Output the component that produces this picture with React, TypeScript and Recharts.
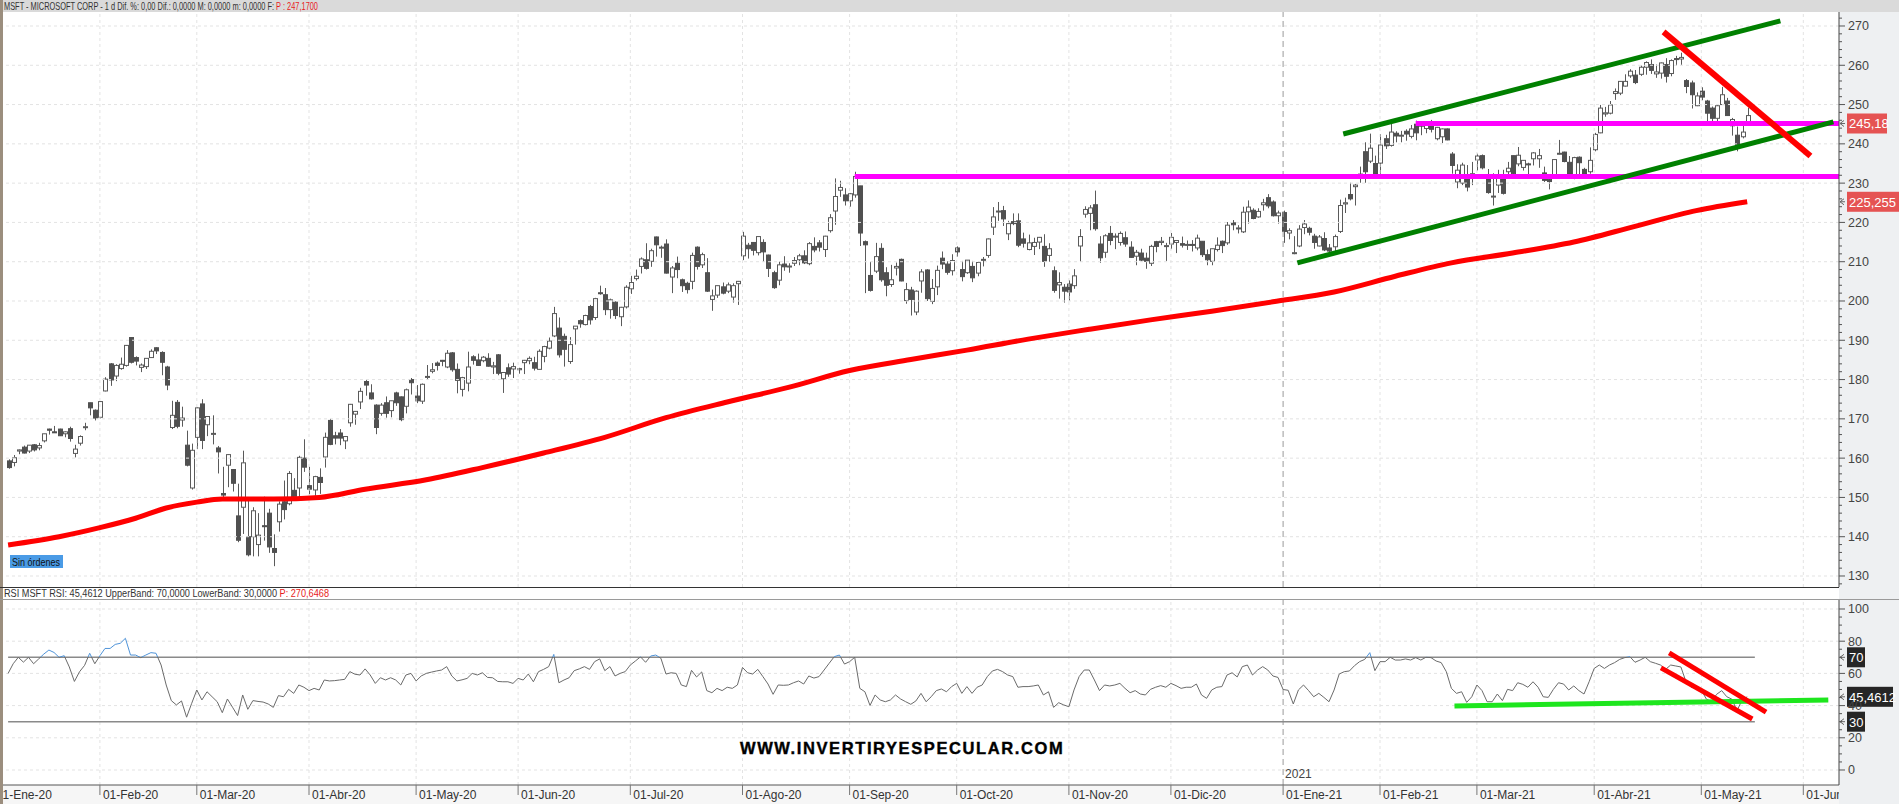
import React from 'react'
import { ComposedChart, Bar, Line, XAxis, YAxis, ReferenceLine } from 'recharts'

// daily sessions, [open, high, low, close]; index 0 = 02-Ene-20, first visible = 07-Ene-20
const jan20 = [[159.3,159.7,157.3,157.6],[158.9,160.8,157.9,160.1],[161.8,162.2,161.0,162.1],[162.8,163.2,161.2,161.3],[161.8,163.3,161.3,163.3],[163.4,163.6,161.7,162.1],[162.6,163.9,162.0,163.2],[164.4,166.2,164.0,166.2],[167.4,167.5,166.0,167.1],[166.7,168.2,166.4,166.5],[167.4,167.5,165.7,165.7],[166.2,166.8,165.3,166.7],[167.5,168.0,164.2,165.0],[161.2,163.4,160.2,162.3],[163.8,165.8,163.2,165.5],[167.8,169.0,167.1,168.0],[174.1,174.1,170.9,172.8],[172.2,172.4,169.6,170.2]]
const feb20 = [[170.4,174.5,170.1,174.4],[177.1,180.6,177.0,180.1],[184.0,184.2,178.4,179.9],[180.9,183.9,179.6,183.6],[182.8,185.6,182.5,183.9],[183.6,188.8,183.3,188.7],[190.7,190.7,184.1,184.4],[185.6,185.9,183.6,184.7],[183.1,184.1,181.9,183.7],[183.3,185.4,182.7,185.4],[185.6,187.7,185.5,187.2],[188.1,188.2,186.5,187.3],[186.9,187.2,181.1,184.4],[183.2,183.5,177.3,178.6],[167.8,174.6,167.4,170.9],[174.2,174.8,167.6,168.1],[169.7,173.1,168.0,170.2],[163.3,167.0,157.9,158.2],[152.4,163.7,152.0,162.0]]
const mar20 = [[165.3,172.9,162.3,172.8],[173.8,175.0,162.3,164.5],[168.5,170.7,165.6,170.6],[166.1,170.9,163.5,166.3],[162.6,163.1,156.1,161.6],[151.0,157.8,150.0,150.6],[158.2,161.0,152.6,160.9],[157.1,157.2,151.5,153.6],[145.3,153.5,138.6,139.1],[147.5,161.9,140.7,158.8],[140.0,149.4,135.0,135.4],[140.0,147.5,135.0,146.6],[138.0,146.0,135.0,140.4],[142.8,150.2,139.0,142.7],[146.0,147.1,135.9,137.4],[137.0,140.6,132.5,136.0],[143.8,149.0,141.3,148.3],[148.9,154.3,144.4,146.9],[148.4,156.7,148.0,156.1],[151.8,154.9,149.2,149.7],[152.4,160.6,150.0,160.2],[160.0,164.8,156.5,157.7]]
const apr20 = [[153.0,157.8,150.8,152.1],[151.9,155.5,150.4,155.3],[155.1,157.4,150.9,153.8],[160.3,166.5,157.6,165.3],[169.6,170.0,163.3,163.5],[165.7,166.7,163.5,165.1],[166.4,167.4,163.3,165.1],[164.4,165.6,162.3,165.5],[169.0,173.8,168.0,173.7],[171.2,172.0,168.5,171.9],[174.3,177.9,172.5,177.0],[179.5,180.0,175.9,178.6],[176.6,178.8,174.9,175.1],[173.5,173.7,166.1,167.8],[171.4,174.0,170.8,173.5],[174.1,175.7,170.3,171.4],[172.1,174.6,170.4,174.6],[176.6,176.9,173.3,174.1],[175.6,175.7,169.4,169.8],[173.2,177.7,171.4,177.4],[180.0,180.4,176.2,179.2]]
const may20 = [[175.8,178.6,174.0,174.6],[174.5,179.0,173.8,178.8],[180.6,183.7,179.9,180.8],[182.1,184.2,181.6,182.5],[184.2,184.6,182.3,183.6],[184.9,185.0,183.4,184.7],[183.2,187.5,182.9,186.7],[186.8,187.0,182.0,182.5],[182.6,184.1,176.5,179.8],[177.5,180.7,175.7,180.5],[179.1,187.1,177.0,183.2],[185.8,186.2,183.8,184.9],[185.0,186.6,183.5,183.6],[184.8,186.0,184.4,185.7],[185.4,186.7,183.3,183.4],[183.2,184.5,181.4,183.5],[186.3,186.5,181.1,181.6],[180.2,181.8,176.6,181.8],[183.0,184.1,180.7,181.4],[182.7,184.3,180.4,183.3]]
const jun20 = [[182.5,183.0,181.5,182.8],[184.3,185.0,181.4,184.9],[184.8,185.9,183.9,185.4],[184.3,185.8,182.3,182.9],[182.6,187.7,182.6,187.2],[185.9,188.6,184.4,188.4],[188.0,190.7,187.7,189.8],[191.1,198.5,190.8,196.8],[193.1,195.8,185.6,186.3],[191.0,191.7,183.3,187.7],[184.6,190.8,184.0,188.9],[192.9,193.6,188.9,193.6],[195.0,195.3,193.2,194.2],[194.0,196.5,193.8,196.3],[198.6,199.0,194.0,195.2],[195.8,200.8,195.2,200.6],[202.1,203.9,201.6,201.9],[201.6,203.3,196.4,197.8],[197.8,200.6,195.5,200.3],[199.7,199.9,195.4,196.3],[196.0,198.5,193.6,198.4],[198.5,204.0,198.1,203.5]]
const jul20 = [[203.1,206.4,201.8,204.7],[205.7,208.0,205.2,206.3],[208.8,211.1,207.0,210.7],[210.5,214.7,208.0,208.3],[210.1,213.3,208.7,212.8],[216.3,216.4,211.3,214.3],[213.6,214.1,211.0,213.7],[214.5,215.7,207.0,207.1],[206.1,208.9,202.0,208.4],[209.6,211.3,205.8,208.0],[205.4,205.7,202.3,203.9],[204.5,204.9,201.9,202.9],[205.0,212.3,203.0,211.6],[213.7,213.9,208.0,208.8],[209.2,212.3,208.4,211.8],[207.2,210.9,202.3,202.5],[200.4,202.9,197.5,201.3],[201.5,203.9,200.8,203.9],[203.6,204.7,201.7,202.0],[202.5,204.7,202.0,204.1],[201.0,204.5,199.6,203.9],[204.4,205.1,199.0,205.0]]
const aug20 = [[211.5,217.6,210.4,216.5],[214.2,214.8,210.8,213.3],[214.9,215.0,211.6,212.9],[212.3,216.4,211.6,216.4],[214.9,215.7,210.0,212.5],[211.7,211.8,206.1,208.3],[207.2,207.7,203.1,203.4],[205.3,210.0,204.0,209.2],[209.4,211.4,207.7,208.7],[208.8,209.6,207.2,208.9],[209.6,211.2,208.9,210.3],[210.5,212.0,209.1,211.5],[211.5,212.9,209.4,209.7],[209.5,215.0,209.1,214.6],[213.9,216.2,212.4,213.0],[214.8,215.5,212.6,213.7],[213.1,216.6,211.2,216.5],[217.9,222.1,217.4,221.2],[222.9,231.2,219.4,226.6],[228.2,230.6,226.5,228.9],[227.0,228.7,224.3,225.5]]
const sep20 = [[225.5,227.5,224.0,227.3],[227.0,232.9,226.3,231.7],[229.3,229.3,214.0,217.3],[215.1,215.4,202.0,214.3],[206.5,210.0,202.4,202.7],[207.6,214.8,207.1,211.3],[213.4,214.7,204.9,205.4],[207.2,208.6,201.2,204.0],[204.2,209.2,203.6,205.4],[208.4,209.8,206.5,208.8],[210.6,210.8,205.0,205.1],[200.1,204.6,199.3,202.9],[202.8,203.6,196.3,200.4],[197.2,202.7,196.4,202.5],[205.1,208.1,202.1,207.4],[207.9,208.1,200.0,200.6],[199.9,205.6,199.2,203.2],[203.6,209.0,201.5,207.8],[210.9,212.6,208.1,209.4],[209.4,210.1,206.7,207.3],[207.7,211.9,206.5,210.3]]
const oct20 = [[213.5,213.9,211.3,212.5],[208.0,210.2,205.0,206.2],[207.2,210.4,206.9,210.4],[208.8,210.2,204.8,205.9],[207.1,210.0,206.3,209.8],[210.5,211.2,208.8,210.6],[211.6,215.9,211.0,215.8],[218.8,223.9,216.8,221.4],[222.7,225.2,220.4,222.9],[223.0,224.2,219.1,220.9],[217.1,220.4,215.5,219.7],[220.2,222.3,219.3,219.7],[220.4,222.3,213.7,214.2],[215.8,217.4,213.6,214.7],[213.1,216.9,212.9,214.8],[213.9,216.1,211.7,214.9],[215.0,216.3,213.2,216.2],[213.9,217.0,208.7,210.1],[211.6,214.7,210.0,213.3],[207.7,208.8,202.1,202.7],[204.1,207.3,200.6,204.7],[203.5,204.3,199.6,202.5]]
const nov20 = [[204.3,205.3,200.1,202.3],[203.9,208.1,203.1,206.4],[214.0,218.3,210.0,216.4],[222.1,224.1,221.2,223.3],[222.3,224.4,218.0,223.7],[224.5,228.1,217.9,218.4],[214.5,216.5,209.7,211.0],[212.4,217.0,211.0,216.6],[217.2,219.1,214.2,215.4],[216.4,217.2,213.2,216.5],[214.9,217.7,214.1,217.2],[216.1,217.7,213.8,214.5],[213.7,215.2,211.0,211.1],[211.4,213.0,209.1,212.4],[212.2,213.3,210.1,210.4],[210.9,212.3,208.2,210.1],[209.6,214.3,208.9,213.9],[215.1,215.3,212.4,213.9],[214.9,216.3,214.2,215.2],[214.1,214.8,210.2,214.1]]
const dec20 = [[214.5,217.3,213.2,216.2],[214.9,215.5,212.2,215.4],[214.6,216.4,213.6,214.2],[214.2,215.4,213.0,214.4],[214.4,215.5,212.6,214.3],[213.5,216.9,212.9,216.0],[215.2,215.2,211.2,211.8],[211.8,213.1,209.1,210.5],[210.1,213.3,209.1,213.3],[213.1,216.2,212.6,214.2],[215.2,215.4,212.2,214.1],[214.8,220.1,214.3,219.3],[219.9,220.6,218.0,219.4],[218.6,219.3,217.2,218.6],[217.6,224.0,217.3,222.6],[222.7,225.6,219.7,223.9],[223.1,223.6,220.8,221.0],[221.4,223.6,221.2,222.8],[224.5,226.0,223.0,225.0],[226.3,227.2,223.6,224.2],[225.2,225.6,221.5,221.7],[221.7,223.0,219.7,222.4]]
const jan21 = [[222.5,223.0,214.8,217.7],[217.3,218.5,215.7,217.9],[212.2,216.5,211.9,212.3],[214.0,219.3,213.7,218.3],[218.7,220.6,217.0,219.6],[218.5,218.9,216.7,217.5],[216.5,217.1,213.3,214.9],[214.0,216.8,213.9,216.3],[215.9,217.5,212.7,213.0],[213.5,214.5,212.0,212.7],[213.8,216.9,212.6,216.4],[217.7,225.8,217.3,224.3],[224.7,226.3,222.4,225.0],[227.1,230.1,225.6,226.0],[229.1,229.8,224.3,229.5],[231.9,234.2,230.1,232.3],[238.0,240.4,230.1,232.9],[235.6,242.6,235.1,238.9],[235.0,237.0,231.2,232.0]]
const feb21 = [[235.1,242.5,232.4,239.7],[241.3,242.3,238.7,239.5],[239.6,245.1,239.3,243.0],[242.7,243.2,240.4,242.0],[242.2,243.3,240.4,242.2],[243.2,243.7,240.8,242.5],[241.9,244.8,241.4,243.8],[245.0,245.9,240.9,242.8],[244.8,245.2,242.2,244.5],[243.9,245.3,242.7,245.0],[245.0,246.1,242.9,243.7],[241.3,244.3,240.9,244.2],[241.8,243.9,240.2,243.8],[243.8,243.9,240.9,241.0],[237.4,237.9,232.4,234.5],[230.3,234.8,228.7,233.3],[230.0,235.2,229.5,234.6],[232.1,234.6,227.9,229.0],[231.5,235.4,229.5,232.4]]
const mar21 = [[235.9,237.5,233.2,236.9],[237.0,237.3,233.5,233.9],[232.2,233.6,227.3,227.6],[226.7,232.5,224.3,226.7],[229.5,233.4,227.5,231.6],[231.4,233.4,227.1,227.4],[232.9,235.4,231.7,233.8],[237.0,237.0,232.0,232.4],[234.9,239.2,234.3,237.1],[234.0,235.8,233.2,235.8],[234.9,235.2,231.8,234.8],[236.2,237.9,234.5,237.7],[236.2,238.7,233.9,237.0],[232.6,234.2,230.3,230.7],[231.0,231.8,228.4,230.4],[231.6,236.1,231.1,236.0],[237.5,241.0,237.3,237.6],[237.9,238.0,235.3,235.5],[235.3,236.9,231.6,232.3],[231.6,236.7,231.0,236.5],[236.6,236.8,231.9,235.2],[233.5,233.9,231.1,231.9],[232.9,239.1,232.4,235.8]]
const apr21 = [[238.5,242.8,238.1,242.4],[242.8,249.9,242.7,249.1],[247.6,249.4,246.9,247.9],[247.8,250.9,247.5,249.9],[252.8,254.1,251.2,253.3],[252.9,256.0,252.4,255.9],[254.7,257.7,254.6,255.9],[257.3,259.0,256.8,258.5],[257.5,258.8,255.2,255.6],[257.7,259.9,257.3,259.5],[259.5,261.0,257.6,260.7],[260.2,261.5,257.8,258.7],[257.8,260.2,256.8,258.3],[258.0,260.7,256.6,260.6],[260.2,261.8,255.6,257.2],[257.9,261.5,257.2,261.2],[261.7,262.4,259.9,261.6],[261.6,263.2,260.1,262.0],[256.1,256.5,252.9,254.6],[255.5,256.1,249.0,252.5],[249.7,253.1,249.6,252.2]]
const may21 = [[253.4,254.4,251.1,251.9],[250.9,251.2,245.8,247.8],[249.1,249.5,245.8,246.5],[246.5,249.9,244.7,249.7],[250.0,254.5,249.9,252.5],[250.9,251.7,247.1,247.2],[244.6,246.6,242.1,246.2],[242.2,244.4,238.1,239.0],[241.8,245.6,241.4,243.0],[245.6,249.2,245.5,247.2]]

const months = [jan20, feb20, mar20, apr20, may20, jun20, jul20, aug20, sep20, oct20, nov20, dec20, jan21, feb21, mar21, apr21, may21]
const firstSession = 3

// RSI(14), one value per session from 07-Ene-20
const rsi = [
  60, 66, 70, 67, 70, 66, 69, 72, 74.5, 73,
  70, 71, 64, 55, 61, 65, 72.5, 66, 71, 75.5,
  75.5, 78, 78.7, 81.8, 71.4, 71.4, 69.8, 71.4, 72.9, 72.5,
  65.2, 52.8, 43.1, 40.4, 42.9, 32.8, 41.4, 49.7, 43.5, 48.6,
  45.5, 42.4, 35.6, 44.1, 39, 33.8, 46.6, 37.7, 43.1, 42.6,
  42.2, 41, 38.9, 46.2, 45.5, 50.1, 47.6, 52.8, 51.4, 49.3,
  50.7, 49.7, 55.9, 55.3, 55.5, 55.9, 56.3, 61.1, 59.5, 59,
  62.8, 59, 53.8, 57.3, 55.9, 57.3, 55.9, 52.8, 59, 60,
  55.3, 58.4, 60, 60.8, 61.5, 62.1, 64.2, 58.4, 55.3, 56,
  56.9, 60, 59, 60.4, 57.5, 57.3, 55, 54.8, 54.8, 53.8,
  56.9, 55.9, 59.6, 54.8, 61.1, 62.5, 64.2, 71.8, 54.2, 55.9,
  57.3, 61.7, 62.8, 64.2, 62.5, 67.3, 69, 61.7, 64.2, 58.4,
  60, 61.1, 65.2, 67.7, 70.3, 66.9, 70.8, 71.4, 69.4, 59.6,
  60.4, 60, 52.8, 51.8, 61.9, 57.8, 60.9, 49.3, 48, 50.7,
  49.3, 51.4, 50.7, 52.8, 63.7, 60.4, 59.6, 62.5, 58, 53.4,
  47, 52.8, 52.6, 52.8, 54.2, 55.3, 53.4, 58.4, 57.1, 58,
  62.1, 66.3, 70.4, 71.4, 65.8, 67.3, 70, 50.7, 48.6, 40.1,
  46.6, 43.5, 42.4, 43.5, 46.6, 44.1, 42.4, 40.8, 42.9, 47.6,
  42.4, 45.5, 49.3, 50.3, 48.6, 51.8, 53.8, 47.6, 51.8, 47.6,
  51.4, 52.8, 58, 61.5, 62.5, 61.1, 59, 58, 51.4, 51.8,
  51.8, 52.2, 52.8, 46.6, 48.6, 38.9, 41.8, 40.4, 39.3, 49.7,
  58, 62.1, 62.1, 55.9, 49.3, 52.8, 52.2, 52.8, 53.8, 50.7,
  48, 49.3, 47.2, 46.6, 50.1, 51.4, 52.4, 51.4, 53.8, 52.4,
  50.7, 51.4, 51.4, 53.4, 46.6, 44.5, 49.7, 51.4, 51.8, 59,
  60.4, 57.8, 64.2, 65.2, 59, 62.1, 64.2, 62.1, 58.4, 57.5,
  50, 49.5, 41, 49.7, 52.8, 49.3, 45.5, 47.6, 45.1, 42.4,
  49.7, 59.6, 61.1, 61.5, 64.8, 67.3, 68.7, 72.9, 61.7, 67.3,
  67.3, 70, 68.3, 68.3, 69, 68.3, 69.8, 68.3, 70, 69.8,
  67.7, 66.7, 61.1, 50.7, 47.6, 48.6, 42, 45.5, 52.8, 49.3,
  42.4, 42.4, 47.2, 43.1, 50.1, 49.3, 54.2, 53.2, 51.4, 54.8,
  51.4, 45.5, 45.1, 50.1, 54.2, 53.4, 49.7, 52.2, 49.3, 47.2,
  54.8, 63.1, 65.2, 63.1, 65.2, 66.7, 68.7, 69.8, 70.4, 66.9,
  68.3, 70, 67.3, 66.3, 65.2, 62.5, 65.2, 64.6, 64, 54.8,
  51.4, 50.7, 49.7, 44, 42.5, 47, 49.3, 45.5, 44, 36.8,
  43.5, 45.46,
]

// 200-session moving average, read at these sessions
const smaSessions = [3, 13, 21, 28, 34, 40, 45, 55, 64, 73, 85, 96, 108, 120, 132, 144, 156, 168, 180, 191, 203, 215, 227, 239, 251, 263, 275, 286, 298, 310, 322, 334, 344]
const smaValues = [137.9, 140.0, 142.3, 144.7, 147.3, 148.8, 149.6, 149.6, 150.0, 152.1, 154.5, 157.6, 161.3, 165.3, 170.3, 174.3, 178.0, 182.3, 185.1, 187.5, 190.3, 192.8, 195.2, 197.4, 199.8, 202.3, 206.3, 209.7, 212.2, 215.0, 219.0, 223.0, 225.26]

const monthTicks = [0, 21, 40, 62, 83, 103, 125, 147, 168, 189, 211, 231, 253, 272, 291, 314, 335, 355]
const monthLabels = ['01-Ene-20', '01-Feb-20', '01-Mar-20', '01-Abr-20', '01-May-20', '01-Jun-20', '01-Jul-20', '01-Ago-20', '01-Sep-20', '01-Oct-20', '01-Nov-20', '01-Dic-20', '01-Ene-21', '01-Feb-21', '01-Mar-21', '01-Abr-21', '01-May-21', '01-Jun-21']

const priceLabels = [130, 140, 150, 160, 170, 180, 190, 200, 210, 220, 230, 240, 250, 260, 270]
const rsiLabels = [0, 20, 40, 60, 80, 100]

// drawings: [session, value] pairs
const greenUpper = [[264.8, 242.5], [350.5, 271.3]]
const greenLower = [[255.8, 209.7], [360.9, 245.6]]
const redPrice = [[327.6, 268.5], [356.4, 236.9]]
const magentaLow = [[169, 231.7], [362, 231.7]]
const magentaHigh = [[279, 245.2], [362, 245.2]]
const rsiGreen = [[286.6, 39.8], [359.9, 43.5]]
const rsiRedA = [[328.7, 72.7], [347.7, 36.0]]
const rsiRedB = [[327.1, 63.4], [345, 31.7]]

const FONT = 'Liberation Sans, Arial, sans-serif'
const W = 1899
const PRICE_H = 588
const RSI_H = 216
const xDomain: [number, number] = [2, 362]
const priceDomain: [number, number] = [127.2, 273.56]
const rsiDomain: [number, number] = [-9.32, 105.59]

const data: any[] = months.flat().map((c, i) => ({ x: firstSession + i, o: c[0], h: c[1], l: c[2], c: c[3], rsi: rsi[i] }))
smaSessions.forEach((s, k) => { data[s - firstSession].sma = smaValues[k] })

const priceTicks: number[] = []
for (let v = 128; v <= 272; v += 2) priceTicks.push(v)
const rsiTicks: number[] = []
for (let v = 0; v <= 100; v += 5) rsiTicks.push(v)

const seg = (p: number[][]) => [{ x: p[0][0], y: p[0][1] }, { x: p[1][0], y: p[1][1] }]

function Candle(props: any) {
  const { x, y, width, height, payload } = props
  if (x == null || y == null) return null
  const { o, h, l, c } = payload
  const top = Math.min(y, y + height)
  const span = Math.abs(height)
  const k = h > l ? span / (h - l) : 0
  const cx = Math.round(x + width / 2) + 0.5
  const bTop = top + (h - Math.max(o, c)) * k
  const bBot = top + (h - Math.min(o, c)) * k
  const up = c >= o
  return (
    <g>
      <line x1={cx} x2={cx} y1={top} y2={top + span} stroke="#5a5a5a" strokeWidth={1} />
      <rect x={cx - 2} y={bTop} width={4} height={Math.max(1, bBot - bTop)} fill={up ? '#ffffff' : '#505050'} stroke={up ? '#5a5a5a' : '#505050'} strokeWidth={1} />
    </g>
  )
}

function PriceTick({ x, y, payload }: any) {
  const v = payload.value
  const major = v % 10 === 0
  return (
    <g>
      <line x1={x} x2={x + (major ? 6 : 3)} y1={y} y2={y} stroke="#555" />
      {major && <text x={x + 9} y={y + 4.5} fontSize={12.5} fill="#444" fontFamily={FONT}>{v}</text>}
    </g>
  )
}

function RsiTick({ x, y, payload }: any) {
  const v = payload.value
  const major = v % 20 === 0
  return (
    <g>
      <line x1={x} x2={x + (major ? 6 : 3)} y1={y} y2={y} stroke="#555" />
      {major && <text x={x + 9} y={y + 4.5} fontSize={12.5} fill="#444" fontFamily={FONT}>{v}</text>}
    </g>
  )
}

function MonthTick({ x, y, payload }: any) {
  const i = monthTicks.indexOf(payload.value)
  return (
    <g clipPath="url(#xclip)">
      <line x1={x} x2={x} y1={y} y2={y + 10} stroke="#777" />
      <text x={x + 3} y={y + 14} fontSize={12} fill="#333" fontFamily={FONT}>{monthLabels[i]}</text>
    </g>
  )
}

function Tag(props: any) {
  const { viewBox, text, fill, w } = props
  const x = viewBox.x + viewBox.width + 8
  const y = viewBox.y
  return (
    <g>
      <path d={`M${x - 7} ${y} l4 -3 M${x - 7} ${y} l4 3 M${x - 7} ${y} h5`} stroke="#666" fill="none" />
      <rect x={x} y={y - 10} width={w} height={20} fill={fill} />
      <text x={x + 2} y={y + 5} fontSize={13} fill="#fff" fontFamily={FONT}>{text}</text>
    </g>
  )
}

function YearLabel(props: any) {
  const { viewBox } = props
  return <text x={viewBox.x + 2} y={viewBox.y + viewBox.height - 7} fontSize={12} fill="#444" fontFamily={FONT}>2021</text>
}

export default function App() {
  const rsiPlotH = RSI_H - 12 - 19
  const y70 = 12 + ((rsiDomain[1] - 70) / (rsiDomain[1] - rsiDomain[0])) * rsiPlotH
  const gridStroke = '#e3e3e3'

  return (
    <div style={{ position: 'absolute', left: 0, top: 0, width: W, height: 804, overflow: 'hidden', background: '#eef0f2', fontFamily: FONT }}>
      <div style={{ position: 'absolute', left: 3, top: 12, width: 1836, height: 575, background: '#fff' }} />
      <div style={{ position: 'absolute', left: 3, top: 600, width: 1836, height: 185, background: '#fff' }} />
      <div style={{ position: 'absolute', left: 0, top: 587, width: 1839, height: 13, background: '#fff' }} />
      <div style={{ position: 'absolute', left: 0, top: 785, width: 1839, height: 19, background: '#f6f6f6' }} />
      <div style={{ position: 'absolute', left: 0, top: 0, width: W, height: 12, background: '#dadada' }} />

      <div style={{ position: 'absolute', left: 0, top: 0 }}>
        <ComposedChart width={W} height={PRICE_H} data={data} margin={{ top: 12, right: 0, bottom: 1, left: 3 }}>
          <XAxis type="number" dataKey="x" domain={xDomain} allowDataOverflow hide />
          <YAxis orientation="right" type="number" width={60} domain={priceDomain} allowDataOverflow ticks={priceTicks} interval={0} tick={<PriceTick />} tickLine={false} tickSize={0} tickMargin={0} axisLine={{ stroke: '#444' }} />
          {priceLabels.map(v => <ReferenceLine key={'hp' + v} y={v} stroke={gridStroke} strokeDasharray="3 3" />)}
          {monthTicks.map(t => <ReferenceLine key={'vp' + t} x={t} stroke={t === 253 ? '#9a9a9a' : gridStroke} strokeDasharray={t === 253 ? '6 4' : '3 3'} />)}
          <Line type="monotone" dataKey="sma" stroke="#ff0000" strokeWidth={5} dot={false} connectNulls isAnimationActive={false} />
          <Bar dataKey={(d: any) => [d.l, d.h]} barSize={4} shape={(p: any) => <Candle {...p} />} isAnimationActive={false} />
          <ReferenceLine segment={seg(magentaLow)} stroke="#ff00ff" strokeWidth={5} ifOverflow="visible" />
          <ReferenceLine segment={seg(magentaHigh)} stroke="#ff00ff" strokeWidth={5} ifOverflow="visible" />
          <ReferenceLine segment={seg(greenUpper)} stroke="#008000" strokeWidth={5} ifOverflow="visible" />
          <ReferenceLine segment={seg(greenLower)} stroke="#008000" strokeWidth={5} ifOverflow="visible" />
          <ReferenceLine segment={seg(redPrice)} stroke="#ff0000" strokeWidth={6} ifOverflow="visible" />
          <ReferenceLine y={245.18} stroke="none" label={<Tag text="245,18" fill="#e55353" w={40} />} />
          <ReferenceLine y={225.255} stroke="none" label={<Tag text="225,255" fill="#e55353" w={52} />} />
        </ComposedChart>
      </div>

      <div style={{ position: 'absolute', left: 0, top: PRICE_H }}>
        <ComposedChart width={W} height={RSI_H} data={data} margin={{ top: 12, right: 0, bottom: 0, left: 3 }}>
          <defs>
            <clipPath id="xclip"><rect x={0} y={0} width={1839} height={RSI_H} /></clipPath>
            <linearGradient id="rsiStroke" gradientUnits="userSpaceOnUse" x1={0} y1={0} x2={0} y2={RSI_H}>
              <stop offset={y70 / RSI_H} stopColor="#4f93d8" />
              <stop offset={y70 / RSI_H} stopColor="#6a6a6a" />
            </linearGradient>
          </defs>
          <XAxis type="number" dataKey="x" domain={xDomain} allowDataOverflow height={19} ticks={monthTicks} interval={0} tick={<MonthTick />} tickLine={false} tickSize={0} tickMargin={0} axisLine={{ stroke: '#555' }} />
          <YAxis orientation="right" type="number" width={60} domain={rsiDomain} allowDataOverflow ticks={rsiTicks} interval={0} tick={<RsiTick />} tickLine={false} tickSize={0} tickMargin={0} axisLine={{ stroke: '#444' }} />
          {rsiLabels.map(v => <ReferenceLine key={'hr' + v} y={v} stroke={gridStroke} strokeDasharray="3 3" />)}
          {monthTicks.map(t => (
            <ReferenceLine key={'vr' + t} x={t} stroke={t === 253 ? '#9a9a9a' : gridStroke} strokeDasharray={t === 253 ? '6 4' : '3 3'} label={t === 253 ? <YearLabel /> : undefined} />
          ))}
          <ReferenceLine segment={[{ x: 3, y: 70 }, { x: 345.5, y: 70 }]} stroke="#8a8a8a" strokeWidth={1.5} />
          <ReferenceLine segment={[{ x: 3, y: 30 }, { x: 345.5, y: 30 }]} stroke="#8a8a8a" strokeWidth={1.5} />
          <Line dataKey="rsi" stroke="url(#rsiStroke)" strokeWidth={1} dot={false} isAnimationActive={false} />
          <ReferenceLine segment={seg(rsiGreen)} stroke="#1ee61e" strokeWidth={5} ifOverflow="visible" />
          <ReferenceLine segment={seg(rsiRedA)} stroke="#ff0000" strokeWidth={5} ifOverflow="visible" />
          <ReferenceLine segment={seg(rsiRedB)} stroke="#ff0000" strokeWidth={5} ifOverflow="visible" />
          <ReferenceLine y={70} stroke="none" label={<Tag text="70" fill="#262626" w={18} />} />
          <ReferenceLine y={45.4612} stroke="none" label={<Tag text="45,4612" fill="#262626" w={46} />} />
          <ReferenceLine y={30} stroke="none" label={<Tag text="30" fill="#262626" w={18} />} />
        </ComposedChart>
      </div>

      <svg width={W} height={804} style={{ position: 'absolute', left: 0, top: 0, pointerEvents: 'none' }}>
        <rect x={0} y={0} width={3} height={804} fill="#9b8e7e" />
        <line x1={0} x2={1839} y1={587.5} y2={587.5} stroke="#333" />
        <line x1={0} x2={1899} y1={599.5} y2={599.5} stroke="#9a9a9a" />
        <text x={4} y={10} fontSize={10.5} fill="#333" fontFamily={FONT} textLength={314} lengthAdjust="spacingAndGlyphs">
          MSFT - MICROSOFT CORP -  1 d Dif. %: 0,00 Dif.: 0,0000 M: 0,0000 m: 0,0000 F:  <tspan fill="#e81c1c">P : 247,1700</tspan>
        </text>
        <text x={4} y={597} fontSize={10.5} fill="#333" fontFamily={FONT} textLength={325} lengthAdjust="spacingAndGlyphs">
          RSI MSFT RSI: 45,4612 UpperBand: 70,0000 LowerBand: 30,0000 <tspan fill="#e81c1c">P: 270,6468</tspan>
        </text>
        <rect x={10} y={555} width={53} height={13} fill="#4a9be6" />
        <text x={12} y={565.5} fontSize={10.5} fill="#111" fontFamily={FONT} textLength={48} lengthAdjust="spacingAndGlyphs">Sin órdenes</text>
        <text x={740} y={753.5} fontSize={16.5} fontWeight="bold" fill="#000" stroke="#000" strokeWidth={0.4} fontFamily={FONT} letterSpacing={1.6}>WWW.INVERTIRYESPECULAR.COM</text>
      </svg>
    </div>
  )
}
